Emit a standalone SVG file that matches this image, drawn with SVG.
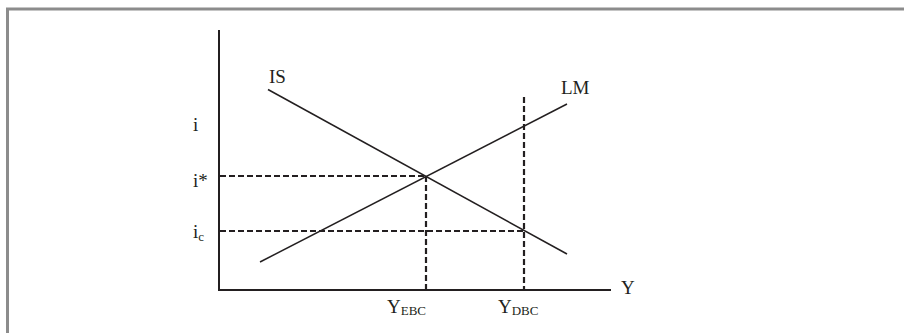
<svg xmlns="http://www.w3.org/2000/svg" width="904" height="333" viewBox="0 0 904 333">
<style>
.t{font-family:"Liberation Serif","Times New Roman",serif;fill:#231f20}
.axis{stroke:#231f20;stroke-width:2;fill:none}
.curve{stroke:#231f20;stroke-width:1.5;fill:none}
.dash{stroke:#231f20;stroke-width:2.2;stroke-dasharray:6 3;fill:none}
</style>
<rect width="904" height="333" fill="#fff"/>
<polyline points="7.5,333 7.5,9 904,9" fill="none" stroke="#8c8c8c" stroke-width="3"/>
<g id="axes">
<polyline class="axis" points="219,30 219,290 611,290"/>
<text class="t" x="193" y="131" font-size="19">i</text>
<text class="t" x="621" y="294" font-size="19">Y</text>
</g>
<g id="IS">
<line class="curve" x1="268" y1="89.5" x2="567" y2="254"/>
<text class="t" x="269" y="83" font-size="19">IS</text>
</g>
<g id="LM">
<line class="curve" x1="260" y1="262" x2="567" y2="104"/>
<text class="t" x="561" y="94" font-size="19">LM</text>
</g>
<g id="connectors">
<line class="dash" x1="220" y1="176" x2="426" y2="176"/>
<line class="dash" x1="220" y1="231" x2="524" y2="231"/>
<line class="dash" x1="426" y1="176" x2="426" y2="290"/>
<line class="dash" x1="524" y1="97" x2="524" y2="290"/>
</g>
<g id="labels">
<text class="t" x="193" y="187" font-size="19">i*</text>
<text class="t" x="193" y="238" font-size="19">i<tspan font-size="13" dy="3">c</tspan></text>
<text class="t" x="387" y="313" font-size="19">Y<tspan font-size="13" dy="2">EBC</tspan></text>
<text class="t" x="498" y="313" font-size="19">Y<tspan font-size="13" dy="2">DBC</tspan></text>
</g>
</svg>
